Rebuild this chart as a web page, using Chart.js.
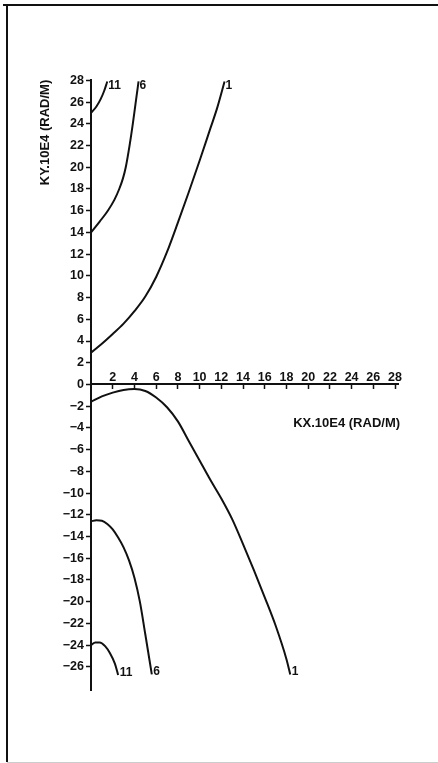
<!DOCTYPE html>
<html>
<head>
<meta charset="utf-8">
<script src="https://cdn.jsdelivr.net/npm/chart.js@4/dist/chart.umd.min.js"></script>
<style>
  html, body { margin: 0; padding: 0; background: #fff; }
  #wrap { width: 438px; height: 763px; }
</style>
</head>
<body>
<div id="wrap"><canvas id="c" width="438" height="763"></canvas></div>
<script>
// Dispersion branches: KY against KX (both x 10^4 rad/m), mode numbers 1, 6, 11.
const modeNumbers = ['1', '6', '11'];

const mode1UpperKx = [0, 1, 2, 3, 4, 5, 6, 7, 8, 9, 10, 11, 11.6, 12.3];
const mode1UpperKy = [2.93, 3.75, 4.65, 5.6, 6.75, 8.1, 9.9, 12.2, 14.9, 17.7, 20.6, 23.6, 25.4, 27.9];

const mode6UpperKx = [0, 0.8, 1.55, 2.15, 2.6, 2.95, 3.2, 3.55, 3.85, 4.12, 4.38];
const mode6UpperKy = [14, 15, 16, 17, 18, 19, 20, 22, 24, 26, 27.9];

const mode11UpperKx = [0, 0.5, 0.9, 1.2, 1.5];
const mode11UpperKy = [25, 25.6, 26.3, 27.0, 27.9];

const mode1LowerKx = [0, 1, 2, 3, 4, 5, 6, 7, 8, 9, 10, 11, 12, 13, 14, 15, 16, 17, 18, 18.35];
const mode1LowerKy = [-1.6, -1.1, -0.75, -0.5, -0.42, -0.6, -1.2, -2.1, -3.4, -5.2, -7.0, -8.8, -10.5, -12.4, -14.7, -17.1, -19.6, -22.2, -25.3, -26.7];

const mode6LowerKx = [0, 0.5, 1, 1.5, 2, 2.5, 3, 3.5, 4, 4.5, 5, 5.6];
const mode6LowerKy = [-12.6, -12.5, -12.55, -12.85, -13.35, -14.1, -15.0, -16.2, -17.8, -20.0, -23.0, -26.7];

const mode11LowerKx = [0, 0.4, 0.8, 1.3, 1.75, 2.2, 2.5];
const mode11LowerKy = [-24, -23.75, -23.75, -24.1, -24.75, -25.7, -26.75];

const xTickValues = [2, 4, 6, 8, 10, 12, 14, 16, 18, 20, 22, 24, 26, 28];
const yTickValues = [28, 26, 24, 22, 20, 18, 16, 14, 12, 10, 8, 6, 4, 2, 0, -2, -4, -6, -8, -10, -12, -14, -16, -18, -20, -22, -24, -26];

const xTitle = 'KX.10E4 (RAD/M)';
const yTitle = 'KY.10E4 (RAD/M)';

const FONT = '"Liberation Sans", Arial, Helvetica, sans-serif';

function toPoints(xs, ys) {
  return xs.map((x, i) => ({ x: x, y: ys[i] }));
}

const branches = [
  { mode: modeNumbers[0], side: 'upper', xs: mode1UpperKx, ys: mode1UpperKy },
  { mode: modeNumbers[1], side: 'upper', xs: mode6UpperKx, ys: mode6UpperKy },
  { mode: modeNumbers[2], side: 'upper', xs: mode11UpperKx, ys: mode11UpperKy },
  { mode: modeNumbers[0], side: 'lower', xs: mode1LowerKx, ys: mode1LowerKy },
  { mode: modeNumbers[1], side: 'lower', xs: mode6LowerKx, ys: mode6LowerKy },
  { mode: modeNumbers[2], side: 'lower', xs: mode11LowerKx, ys: mode11LowerKy }
];

function fmt(v) {
  return v < 0 ? '\u2212' + Math.abs(v) : String(v);
}

// Frame lines, axis titles and the mode number at the end of each branch.
const annotations = {
  id: 'annotations',
  beforeDraw(chart) {
    const ctx = chart.ctx;
    ctx.save();
    ctx.fillStyle = '#fff';
    ctx.fillRect(0, 0, chart.width, chart.height);
    ctx.strokeStyle = '#111';
    ctx.lineWidth = 2;
    ctx.beginPath();
    ctx.moveTo(3, 5); ctx.lineTo(438, 5);
    ctx.moveTo(7, 5); ctx.lineTo(7, 762);
    ctx.stroke();
    ctx.strokeStyle = '#ccc';
    ctx.lineWidth = 1;
    ctx.beginPath();
    ctx.moveTo(7, 762.5); ctx.lineTo(438, 762.5);
    ctx.stroke();
    ctx.restore();
  },
  afterDraw(chart) {
    const ctx = chart.ctx;
    const xs = chart.scales.x, ys = chart.scales.y;
    ctx.save();
    ctx.fillStyle = '#111';
    ctx.font = 'bold 13px ' + FONT;
    // x title, right-aligned to the axis end, below the axis
    ctx.textAlign = 'right';
    ctx.textBaseline = 'middle';
    ctx.fillText(xTitle, xs.getPixelForValue(28) + 5, ys.getPixelForValue(0) + 38.5);
    // y title, rotated, beside the upper half of the axis
    ctx.save();
    ctx.translate(45, ys.getPixelForValue(23.2));
    ctx.rotate(-Math.PI / 2);
    ctx.textAlign = 'center';
    ctx.textBaseline = 'middle';
    ctx.fillText(yTitle, 0, 0);
    ctx.restore();
    // mode labels
    ctx.font = 'bold 12px ' + FONT;
    ctx.textAlign = 'left';
    ctx.textBaseline = 'middle';
    branches.forEach(b => {
      const n = b.xs.length - 1;
      const px = xs.getPixelForValue(b.xs[n]);
      const py = ys.getPixelForValue(b.ys[n]);
      if (b.side === 'upper') {
        ctx.fillText(b.mode, px + 1, py + 4);
      } else {
        ctx.fillText(b.mode, px + 1.5, py - 2.5);
      }
    });
    ctx.restore();
  }
};

new Chart(document.getElementById('c'), {
  type: 'line',
  data: {
    datasets: branches.map(b => ({
      label: 'mode ' + b.mode + ' ' + b.side,
      data: toPoints(b.xs, b.ys),
      borderColor: '#111',
      borderWidth: 2,
      pointRadius: 0,
      fill: false,
      cubicInterpolationMode: 'monotone'
    }))
  },
  options: {
    responsive: false,
    animation: false,
    events: [],
    layout: { padding: { left: 51, right: 39.7, top: 80.4, bottom: 72.3 } },
    plugins: { legend: { display: false }, tooltip: { enabled: false } },
    scales: {
      x: {
        type: 'linear',
        min: 0,
        max: 28.3,
        position: { y: 0 },
        border: { display: true, color: '#111', width: 2 },
        grid: { drawOnChartArea: false, drawTicks: true, tickLength: 4, tickWidth: 1.5, tickColor: '#111' },
        afterBuildTicks(scale) { scale.ticks = xTickValues.map(v => ({ value: v })); },
        ticks: {
          padding: -18,
          maxRotation: 0,
          autoSkip: false,
          color: '#111',
          font: { family: FONT, size: 12.5, weight: 'bold' },
          callback: v => fmt(v)
        }
      },
      y: {
        type: 'linear',
        min: -28.2,
        max: 28,
        position: 'left',
        afterFit(scale) { scale.width = 40; },
        border: { display: true, color: '#111', width: 2 },
        grid: { drawOnChartArea: false, drawTicks: true, tickLength: 5, tickWidth: 1.5, tickColor: '#111' },
        afterBuildTicks(scale) { scale.ticks = yTickValues.map(v => ({ value: v })); },
        ticks: {
          padding: 2,
          autoSkip: false,
          color: '#111',
          font: { family: FONT, size: 12.5, weight: 'bold' },
          callback: v => fmt(v)
        }
      }
    }
  },
  plugins: [annotations]
});
</script>
</body>
</html>
